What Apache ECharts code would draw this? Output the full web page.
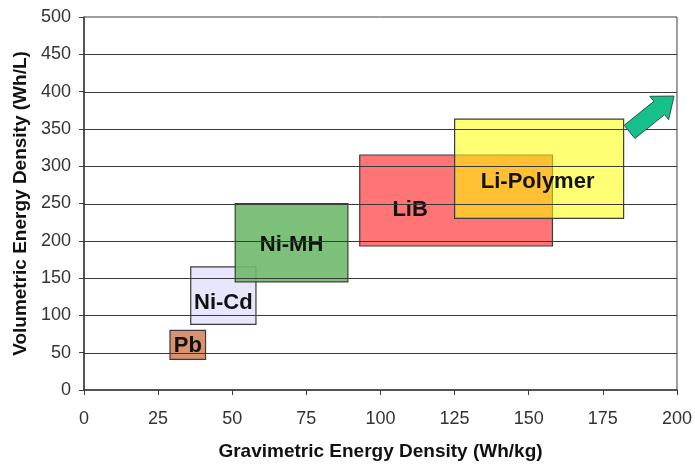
<!DOCTYPE html>
<html>
<head>
<meta charset="utf-8">
<script src="https://cdn.jsdelivr.net/npm/echarts@6/dist/echarts.min.js"></script>
<style>
  html, body { margin: 0; padding: 0; background: #fff; }
  #chart { width: 695px; height: 466px; }
</style>
</head>
<body>
<div id="chart"></div>
<script>
// battery chemistries, energy density ranges
const batteryTypes = ['Pb', 'Ni-Cd', 'Ni-MH', 'LiB', 'Li-Polymer'];
const gravMin = [29, 36, 51, 93, 125];   // Wh/kg
const gravMax = [41, 58, 89, 158, 182];
const volMin = [41, 88, 145, 193, 230];  // Wh/L
const volMax = [80, 165, 250, 315, 363];
// where each name sits (data units)
const labelGrav = [35, 47, 70, 110, 153];
const labelVol = [59, 117, 195, 242, 279];
// trend arrow, tail -> tip (data units)
const arrowFrom = [184, 346];
const arrowTo = [199, 394];
// horizontal grid lines (drawn over the boxes, like the original)
const volTicks = [50, 100, 150, 200, 250, 300, 350, 400, 450];

const boxColors = ['#D8926F', '#E6E6FC', 'rgba(110,185,108,0.9)', '#FF7474', 'rgba(255,255,0,0.55)'];
const FONT = '"Liberation Sans", Arial, sans-serif';

let myChart = echarts.init(document.getElementById('chart'));

const boxData = batteryTypes.map((n, i) => [gravMin[i], gravMax[i], volMin[i], volMax[i], labelGrav[i], labelVol[i], n]);

function renderBox(params, api) {
  let p0 = api.coord([api.value(0), api.value(3)]);
  let p1 = api.coord([api.value(1), api.value(2)]);
  let pl = api.coord([api.value(4), api.value(5)]);
  let i = params.dataIndex;
  return {
    type: 'group',
    children: [
      {
        type: 'rect',
        shape: { x: p0[0], y: p0[1], width: p1[0] - p0[0], height: p1[1] - p0[1] },
        style: { fill: boxColors[i], stroke: '#3c3c3c', lineWidth: 1.2 }
      },
      {
        type: 'text',
        x: pl[0], y: pl[1],
        style: {
          text: batteryTypes[i],
          fill: '#111',
          font: 'bold 22px ' + FONT,
          align: 'center',
          verticalAlign: 'middle'
        }
      }
    ]
  };
}

function renderGridLine(params, api) {
  let cs = params.coordSys;
  let y = Math.round(api.coord([0, api.value(0)])[1]) + 0.5;
  return {
    type: 'line',
    shape: { x1: cs.x, y1: y, x2: cs.x + cs.width, y2: y },
    style: { stroke: '#3a3a3a', lineWidth: 1.2 }
  };
}

function renderArrow(params, api) {
  let a = api.coord([api.value(0), api.value(1)]);
  let b = api.coord([api.value(2), api.value(3)]);
  let dx = b[0] - a[0], dy = b[1] - a[1];
  let len = Math.sqrt(dx * dx + dy * dy);
  let ux = dx / len, uy = dy / len;
  let nx = -uy, ny = ux;
  let shaft = 8.5, head = 15, headLen = 19;
  let hb = [b[0] - ux * headLen, b[1] - uy * headLen];
  let pts = [
    [a[0] + nx * shaft, a[1] + ny * shaft],
    [hb[0] + nx * shaft, hb[1] + ny * shaft],
    [hb[0] + nx * head, hb[1] + ny * head],
    b,
    [hb[0] - nx * head, hb[1] - ny * head],
    [hb[0] - nx * shaft, hb[1] - ny * shaft],
    [a[0] - nx * shaft, a[1] - ny * shaft]
  ];
  return {
    type: 'polygon',
    shape: { points: pts },
    style: { fill: '#16C08C', stroke: '#2f4f45', lineWidth: 1 }
  };
}

var option = {
  animation: false,
  grid: {
    left: 84,
    right: 16,
    top: 17,
    bottom: 72,
    show: true,
    borderColor: '#3c3c3c',
    borderWidth: 1
  },
  xAxis: {
    type: 'value',
    min: 0,
    max: 200,
    interval: 25,
    name: 'Gravimetric Energy Density (Wh/kg)',
    nameLocation: 'middle',
    nameGap: 52,
    nameTextStyle: { fontFamily: FONT, fontWeight: 'bold', fontSize: 19, color: '#111' },
    axisLine: { lineStyle: { color: '#3c3c3c', width: 1.5 } },
    axisTick: { show: true, length: 5, lineStyle: { color: '#3c3c3c' } },
    axisLabel: { fontFamily: FONT, fontSize: 18, color: '#333', margin: 20 },
    splitLine: { show: false }
  },
  yAxis: {
    type: 'value',
    min: 0,
    max: 500,
    interval: 50,
    name: 'Volumetric Energy Density (Wh/L)',
    nameLocation: 'middle',
    nameGap: 54,
    nameTextStyle: { fontFamily: FONT, fontWeight: 'bold', fontSize: 19, color: '#111' },
    axisLine: { show: true, lineStyle: { color: '#3c3c3c', width: 1.5 } },
    axisTick: { show: true, length: 5, lineStyle: { color: '#3c3c3c' } },
    axisLabel: { fontFamily: FONT, fontSize: 18, color: '#333', margin: 13 },
    splitLine: { show: false }
  },
  series: [
    {
      type: 'custom',
      z: 2,
      renderItem: renderBox,
      data: boxData
    },
    {
      type: 'custom',
      z: 4,
      silent: true,
      renderItem: renderGridLine,
      data: volTicks.map(v => [v]),
      encode: { y: 0 }
    },
    {
      type: 'custom',
      z: 5,
      renderItem: renderArrow,
      data: [[arrowFrom[0], arrowFrom[1], arrowTo[0], arrowTo[1]]]
    }
  ]
};
myChart.setOption(option);
</script>
</body>
</html>
